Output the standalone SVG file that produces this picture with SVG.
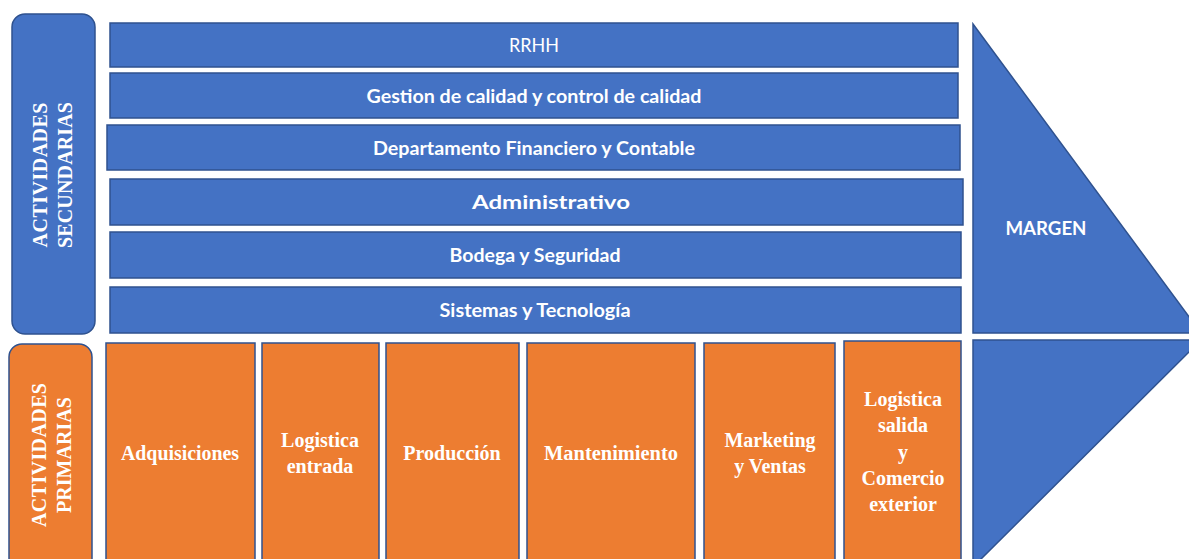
<svg xmlns="http://www.w3.org/2000/svg" width="1189" height="559" viewBox="0 0 1189 559">
<style>
.blue{fill:#4472C4;stroke:#2F528F;stroke-width:1.5}
.orange{fill:#ED7D31;stroke:#2F528F;stroke-width:1.5}
.bt{font-family:Lato,"Liberation Sans",sans-serif;font-size:19px;font-weight:bold;fill:#fff;text-anchor:middle}
.st{font-family:"Liberation Serif",serif;font-size:20px;font-weight:bold;fill:#fff;text-anchor:middle}
.vt{font-family:"Liberation Serif",serif;font-size:20px;font-weight:bold;fill:#fff;text-anchor:middle}
</style>
<rect width="1189" height="559" fill="#fff"/>
<g id="secundarias">
<rect class="blue" x="12" y="14" width="83" height="320" rx="13"/>
<text class="vt" transform="translate(47,175) rotate(-90)" textLength="145" lengthAdjust="spacing">ACTIVIDADES</text>
<text class="vt" transform="translate(72,175) rotate(-90)" textLength="146" lengthAdjust="spacing">SECUNDARIAS</text>
</g>
<g id="primarias">
<rect class="orange" x="9" y="344" width="83" height="230" rx="13"/>
<text class="vt" transform="translate(46,455) rotate(-90)" textLength="144" lengthAdjust="spacing">ACTIVIDADES</text>
<text class="vt" transform="translate(71,455) rotate(-90)" textLength="116" lengthAdjust="spacing">PRIMARIAS</text>
</g>
<g id="rrhh">
<rect class="blue" x="110" y="23" width="848" height="44"/>
<text class="bt" x="534" y="52" style="font-weight:normal" textLength="50" lengthAdjust="spacingAndGlyphs">RRHH</text>
</g>
<g id="calidad">
<rect class="blue" x="110" y="73" width="848" height="45"/>
<text class="bt" x="534" y="103" textLength="335" lengthAdjust="spacingAndGlyphs">Gestion de calidad y control de calidad</text>
</g>
<g id="financiero">
<rect class="blue" x="107" y="125" width="853" height="45"/>
<text class="bt" x="534" y="155" textLength="322" lengthAdjust="spacingAndGlyphs">Departamento Financiero y Contable</text>
</g>
<g id="administrativo">
<rect class="blue" x="110" y="179" width="853" height="46"/>
<text class="bt" x="551" y="209" textLength="158" lengthAdjust="spacingAndGlyphs">Administrativo</text>
</g>
<g id="bodega">
<rect class="blue" x="110" y="232" width="851" height="46"/>
<text class="bt" x="535" y="262" textLength="171" lengthAdjust="spacingAndGlyphs">Bodega y Seguridad</text>
</g>
<g id="sistemas">
<rect class="blue" x="110" y="287" width="851" height="46"/>
<text class="bt" x="535" y="317" textLength="191" lengthAdjust="spacingAndGlyphs">Sistemas y Tecnología</text>
</g>
<g id="margen">
<polygon class="blue" points="973,24 1201,333 973,333"/>
<text class="bt" x="1046" y="235" textLength="81" lengthAdjust="spacingAndGlyphs">MARGEN</text>
</g>
<g id="margen-inferior">
<polygon class="blue" points="973,340 1200,340 1189,352 975,565 973,565"/>
</g>
<g id="adquisiciones">
<rect class="orange" x="106" y="343" width="149" height="225"/>
<text class="st" x="180" y="460" textLength="118" lengthAdjust="spacingAndGlyphs">Adquisiciones</text>
</g>
<g id="logistica-entrada">
<rect class="orange" x="262" y="343" width="117" height="225"/>
<text class="st" x="320" y="447">Logistica</text>
<text class="st" x="320" y="473">entrada</text>
</g>
<g id="produccion">
<rect class="orange" x="386" y="343" width="133" height="225"/>
<text class="st" x="452" y="460">Producción</text>
</g>
<g id="mantenimiento">
<rect class="orange" x="527" y="343" width="168" height="225"/>
<text class="st" x="611" y="460" textLength="134" lengthAdjust="spacingAndGlyphs">Mantenimiento</text>
</g>
<g id="marketing">
<rect class="orange" x="704" y="343" width="131" height="225"/>
<text class="st" x="770" y="447">Marketing</text>
<text class="st" x="770" y="473">y Ventas</text>
</g>
<g id="logistica-salida">
<rect class="orange" x="844" y="341" width="117" height="227"/>
<text class="st" x="903" y="406">Logistica</text>
<text class="st" x="903" y="432">salida</text>
<text class="st" x="903" y="459">y</text>
<text class="st" x="903" y="485">Comercio</text>
<text class="st" x="903" y="511">exterior</text>
</g>
<g id="connectors"></g>
</svg>
